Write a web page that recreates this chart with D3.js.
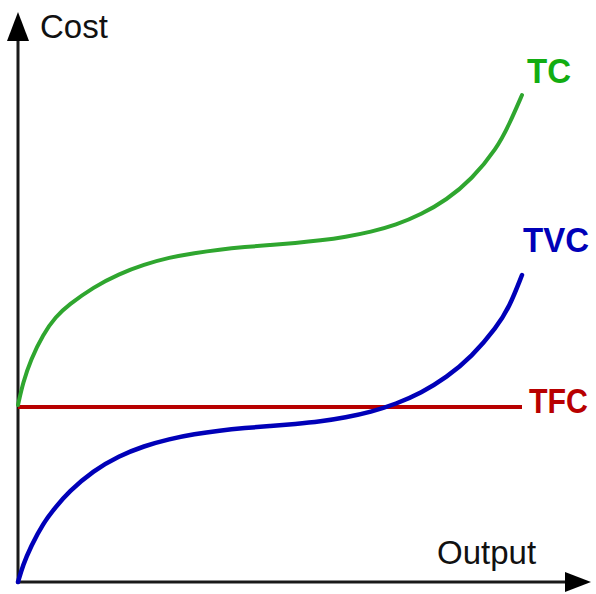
<!DOCTYPE html>
<html>
<head>
<meta charset="utf-8">
<script src="https://cdn.jsdelivr.net/npm/d3@7"></script>
<style>
  html, body { margin: 0; padding: 0; background: #fff; }
  svg { display: block; }
</style>
</head>
<body>
<svg id="chart" width="596" height="594"></svg>
<script>
// Output quantities (arbitrary units)
const output = [0, 0.1, 0.25, 0.5, 0.75, 1, 1.5, 2, 2.5, 3, 3.5, 4, 4.5, 5, 5.5, 6, 6.5, 7, 7.5, 8, 8.5, 9, 9.5, 9.75, 10];
// Total variable cost
const tvc = [0, 3.4, 7, 11.8, 15.0, 18.0, 22.3, 25.2, 27.2, 28.6, 29.6, 30.3, 30.8, 31.2, 31.6, 32.1, 32.9, 34.0, 35.6, 37.8, 40.9, 45.0, 51.0, 55.0, 61.4];
// Total cost
const tc = [35.4, 39.9, 44.4, 49.6, 53.1, 55.4, 59.0, 61.6, 63.5, 64.9, 65.8, 66.5, 67.0, 67.4, 67.8, 68.3, 69.0, 70.0, 71.4, 73.5, 76.4, 80.5, 86.7, 91.6, 97.4];
// Total fixed cost (constant)
const tfc = 35;
const outputRange = [0, 10];

const axisLabels = { x: "Output", y: "Cost" };
const seriesColors = { TC: "#2fa62f", TVC: "#0000b8", TFC: "#b80000" };
const labelColors = { TC: "#12ad12", TVC: "#0000b8", TFC: "#b80000" };

const svg = d3.select("#chart");
const origin = { x: 18, y: 582 };

const x = d3.scaleLinear().domain(outputRange).range([origin.x, 522]);
const y = d3.scaleLinear().domain([0, 100]).range([origin.y, 82]);

// Axes with arrowheads
const axisColor = "#1a1a1a";
const yTip = 12, xTip = 591;
svg.append("line")
  .attr("x1", origin.x).attr("y1", origin.y + 1.5)
  .attr("x2", origin.x).attr("y2", yTip + 20)
  .attr("stroke", axisColor).attr("stroke-width", 3);
svg.append("path")
  .attr("d", `M${origin.x},${yTip} L${origin.x - 11},${yTip + 29} L${origin.x + 11},${yTip + 29} Z`)
  .attr("fill", "#000");
svg.append("line")
  .attr("x1", origin.x - 1.5).attr("y1", origin.y)
  .attr("x2", xTip - 20).attr("y2", origin.y)
  .attr("stroke", axisColor).attr("stroke-width", 3);
svg.append("path")
  .attr("d", `M${xTip},${origin.y} L${xTip - 26},${origin.y - 10} L${xTip - 26},${origin.y + 10} Z`)
  .attr("fill", "#000");

// Axis titles
svg.append("text")
  .attr("x", 40).attr("y", 38)
  .attr("font-family", "Liberation Sans, Arial, sans-serif")
  .attr("font-size", 33)
  .attr("fill", "#111")
  .text(axisLabels.y);
svg.append("text")
  .attr("x", 437).attr("y", 564)
  .attr("font-family", "Liberation Sans, Arial, sans-serif")
  .attr("font-size", 33)
  .attr("fill", "#111")
  .text(axisLabels.x);

const line = d3.line()
  .x((d, i) => x(output[i]))
  .y(d => y(d))
  .curve(d3.curveBasis);

// Fixed cost line
svg.append("line")
  .attr("x1", x(outputRange[0])).attr("x2", x(outputRange[1]))
  .attr("y1", y(tfc)).attr("y2", y(tfc))
  .attr("stroke", seriesColors.TFC).attr("stroke-width", 4);

// Cost curves
svg.append("path").datum(tc)
  .attr("d", line)
  .attr("fill", "none")
  .attr("stroke", seriesColors.TC).attr("stroke-width", 4)
  .attr("stroke-linecap", "round");
svg.append("path").datum(tvc)
  .attr("d", line)
  .attr("fill", "none")
  .attr("stroke", seriesColors.TVC).attr("stroke-width", 4.5)
  .attr("stroke-linecap", "round");

// Series labels placed by the end of each curve
const labelSpecs = [
  { name: "TC", yv: tc[tc.length - 1], dx: 5, dy: -12, w: 44 },
  { name: "TVC", yv: tvc[tvc.length - 1], dx: 1, dy: -23, w: 66 },
  { name: "TFC", yv: tfc, dx: 7, dy: 6, w: 59 }
];
labelSpecs.forEach(s => {
  svg.append("text")
    .attr("x", x(outputRange[1]) + s.dx)
    .attr("y", y(s.yv) + s.dy)
    .attr("font-family", "Liberation Sans, Arial, sans-serif")
    .attr("font-weight", "bold")
    .attr("font-size", 35)
    .attr("textLength", s.w)
    .attr("lengthAdjust", "spacingAndGlyphs")
    .attr("fill", labelColors[s.name])
    .text(s.name);
});
</script>
</body>
</html>
